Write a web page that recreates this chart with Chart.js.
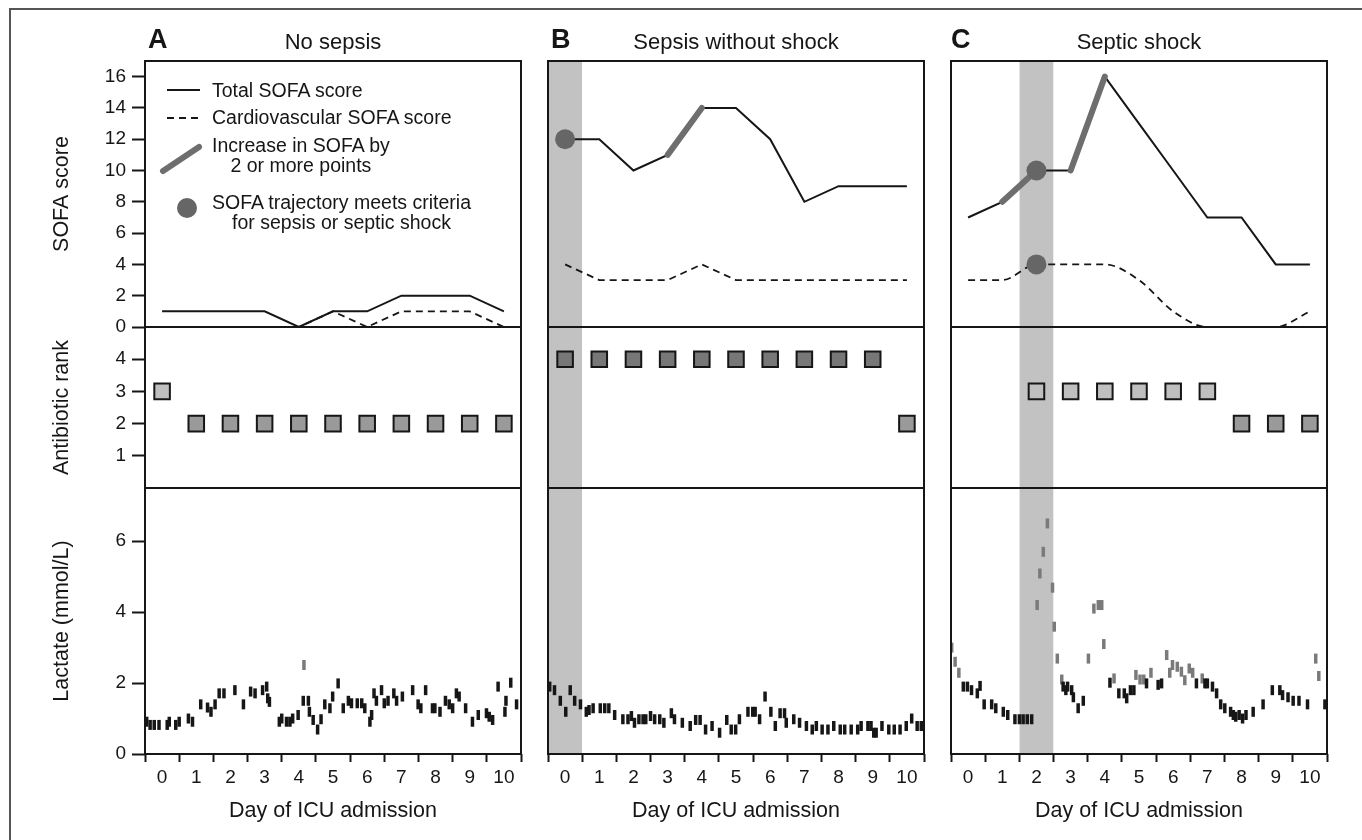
<!DOCTYPE html>
<html>
<head>
<meta charset="utf-8">
<script src="https://cdn.jsdelivr.net/npm/chart.js@4.4.1/dist/chart.umd.min.js"></script>
<style>
  html, body { margin: 0; padding: 0; background: #fff; }
  #fig { position: relative; width: 1362px; height: 840px; overflow: hidden;
         font-family: "Liberation Sans", Arial, Helvetica, sans-serif; color: #161616; }
  #fig canvas { position: absolute; }
  .frame { position: absolute; left: 9px; top: 8px; right: -4px; bottom: -4px;
           border-top: 2px solid #555; border-left: 2px solid #555; }
  .txt { position: absolute; white-space: nowrap; z-index: 2; }
  .letter { font-weight: bold; font-size: 27px; line-height: 27px; }
  .title { font-size: 22px; line-height: 22px; text-align: center; width: 376px; }
  .leg { font-size: 19.5px; line-height: 19.6px; }
  .leg.two { text-align: center; }
  #legsym { position: absolute; left: 150px; top: 75px; z-index: 2; }
</style>
</head>
<body>
<div id="fig">
  <div class="frame"></div>

  <div class="txt letter" style="left:148px;top:26px">A</div>
  <div class="txt title" style="left:145px;top:31px">No sepsis</div>
  <div class="txt letter" style="left:551px;top:26px">B</div>
  <div class="txt title" style="left:548px;top:31px">Sepsis without shock</div>
  <div class="txt letter" style="left:951px;top:26px">C</div>
  <div class="txt title" style="left:951px;top:31px">Septic shock</div>

  <svg id="legsym" width="70" height="150">
    <line x1="17" y1="15" x2="50" y2="15" stroke="#161616" stroke-width="2"/>
    <line x1="17" y1="43" x2="50" y2="43" stroke="#161616" stroke-width="2" stroke-dasharray="7 5"/>
    <line x1="13" y1="96" x2="49" y2="72" stroke="#6e6e6e" stroke-width="6" stroke-linecap="round"/>
    <circle cx="37" cy="133" r="10" fill="#666"/>
  </svg>
  <div class="txt leg" style="left:212px;top:81px">Total SOFA score</div>
  <div class="txt leg" style="left:212px;top:108px">Cardiovascular SOFA score</div>
  <div class="txt leg two" style="left:212px;top:136px">Increase in SOFA by<br>2 or more points</div>
  <div class="txt leg two" style="left:212px;top:193px">SOFA trajectory meets criteria<br>for sepsis or septic shock</div>
</div>

<script>
// ---- data ----
const days = [0, 1, 2, 3, 4, 5, 6, 7, 8, 9, 10];
const dayEdges = [-0.5, 0.5, 1.5, 2.5, 3.5, 4.5, 5.5, 6.5, 7.5, 8.5, 9.5, 10.5];
const dayLabels = ['0', '1', '2', '3', '4', '5', '6', '7', '8', '9', '10'];
const sofaTicks = [0, 2, 4, 6, 8, 10, 12, 14, 16];
const rankTicks = [1, 2, 3, 4];
const lactateTicks = [0, 2, 4, 6];

const totalA = [1, 1, 1, 1, 0, 1, 1, 2, 2, 2, 1];
const cardioA = [0, 0, 0, 0, 0, 1, 0, 1, 1, 1, 0];
const totalB = [12, 12, 10, 11, 14, 14, 12, 8, 9, 9, 9];
const cardioB = [4, 3, 3, 3, 4, 3, 3, 3, 3, 3, 3];
const totalC = [7, 8, 10, 10, 16, 13, 10, 7, 7, 4, 4];
const cardioC = [3, 3, 4, 4, 4, 3, 1, 0, 0, 0, 1];

// day on which a rise of >= 2 points starts (segment day -> day+1)
const riseA = [];
const riseB = [3];
const riseC = [1, 3];

// days where the trajectory meets criteria
const metTotalA = [];
const metCardioA = [];
const metTotalB = [0];
const metCardioB = [];
const metTotalC = [2];
const metCardioC = [2];

// shaded window (day range)
const shadeA = null;
const shadeB = [-0.5, 0.5];
const shadeC = [1.5, 2.5];

const rankA = [3, 2, 2, 2, 2, 2, 2, 2, 2, 2, 2];
const rankB = [4, 4, 4, 4, 4, 4, 4, 4, 4, 4, 2];
const rankC = [null, null, 3, 3, 3, 3, 3, 3, 2, 2, 2];

// lactate measurements: [day, mmol/L]
const lactateA = [
  [-0.45, 0.91], [-0.35, 0.82], [-0.23, 0.82], [-0.09, 0.82], [0.15, 0.82], [0.21, 0.91], [0.40, 0.82],
  [0.50, 0.91], [0.77, 1.00], [0.89, 0.91], [1.13, 1.40], [1.33, 1.31], [1.43, 1.19], [1.55, 1.40],
  [1.67, 1.71], [1.81, 1.71], [2.13, 1.80], [2.38, 1.40], [2.59, 1.76], [2.72, 1.71], [2.94, 1.80],
  [3.06, 1.90], [3.09, 1.57], [3.14, 1.47], [3.43, 0.91], [3.50, 1.00], [3.64, 0.91], [3.74, 0.91],
  [3.82, 1.00], [3.98, 1.10], [4.13, 1.50], [4.15, 2.51], [4.28, 1.50], [4.31, 1.19], [4.42, 0.96],
  [4.55, 0.69], [4.65, 0.98], [4.76, 1.40], [4.91, 1.29], [4.99, 1.62], [5.15, 1.99], [5.30, 1.29],
  [5.45, 1.50], [5.54, 1.43], [5.71, 1.43], [5.84, 1.43], [5.93, 1.29], [6.08, 0.91], [6.13, 1.10],
  [6.20, 1.71], [6.27, 1.50], [6.42, 1.80], [6.50, 1.43], [6.61, 1.50], [6.78, 1.71], [6.86, 1.50],
  [7.03, 1.62], [7.33, 1.80], [7.49, 1.40], [7.57, 1.29], [7.71, 1.80], [7.91, 1.29], [7.98, 1.29],
  [8.13, 1.19], [8.29, 1.50], [8.40, 1.40], [8.50, 1.29], [8.61, 1.71], [8.69, 1.62], [8.88, 1.29],
  [9.08, 0.91], [9.25, 1.10], [9.49, 1.15], [9.57, 1.05], [9.67, 0.96], [9.83, 1.90], [10.03, 1.19],
  [10.06, 1.50], [10.20, 2.01], [10.37, 1.40]
];
const lactateB = [
  [-0.45, 1.90], [-0.31, 1.80], [-0.14, 1.50], [0.02, 1.19], [0.15, 1.80], [0.28, 1.50], [0.45, 1.40],
  [0.62, 1.19], [0.70, 1.24], [0.82, 1.29], [1.03, 1.29], [1.16, 1.29], [1.28, 1.29], [1.45, 1.10],
  [1.69, 0.98], [1.84, 0.98], [1.94, 1.07], [2.03, 0.88], [2.16, 0.98], [2.28, 0.98], [2.36, 0.98],
  [2.50, 1.07], [2.62, 0.98], [2.77, 0.98], [2.89, 0.88], [3.11, 1.15], [3.20, 0.98], [3.43, 0.88],
  [3.66, 0.79], [3.82, 0.96], [3.95, 0.96], [4.11, 0.69], [4.30, 0.79], [4.52, 0.60], [4.73, 0.96],
  [4.86, 0.69], [4.99, 0.69], [5.10, 0.98], [5.35, 1.19], [5.49, 1.19], [5.56, 1.19], [5.69, 0.98],
  [5.85, 1.62], [6.02, 1.19], [6.15, 0.79], [6.29, 1.15], [6.42, 1.15], [6.47, 0.88], [6.69, 0.98],
  [6.86, 0.88], [7.06, 0.79], [7.23, 0.69], [7.35, 0.79], [7.52, 0.69], [7.69, 0.69], [7.86, 0.79],
  [8.05, 0.69], [8.18, 0.69], [8.37, 0.69], [8.56, 0.69], [8.66, 0.79], [8.86, 0.79], [8.95, 0.79],
  [9.03, 0.60], [9.10, 0.60], [9.27, 0.79], [9.47, 0.69], [9.63, 0.69], [9.80, 0.69], [9.98, 0.79],
  [10.14, 1.00], [10.30, 0.79], [10.42, 0.79]
];
const lactateC = [
  [-0.48, 3.00], [-0.38, 2.60], [-0.27, 2.29], [-0.14, 1.90], [-0.02, 1.90], [0.10, 1.80], [0.27, 1.71],
  [0.35, 1.92], [0.47, 1.40], [0.69, 1.40], [0.81, 1.29], [1.03, 1.19], [1.16, 1.10], [1.37, 0.98],
  [1.50, 0.98], [1.61, 0.98], [1.73, 0.98], [1.86, 0.98], [2.02, 4.20], [2.10, 5.09], [2.20, 5.70],
  [2.32, 6.50], [2.47, 4.69], [2.52, 3.59], [2.61, 2.69], [2.74, 2.10], [2.78, 1.90], [2.86, 1.80],
  [2.91, 1.90], [3.03, 1.80], [3.08, 1.60], [3.22, 1.29], [3.37, 1.50], [3.52, 2.69], [3.68, 4.10],
  [3.81, 4.20], [3.91, 4.20], [3.97, 3.10], [4.15, 2.01], [4.27, 2.13], [4.41, 1.71], [4.57, 1.71],
  [4.64, 1.57], [4.75, 1.80], [4.85, 1.80], [4.91, 2.23], [5.03, 2.10], [5.14, 2.10], [5.22, 1.99],
  [5.35, 2.29], [5.56, 1.95], [5.66, 1.99], [5.81, 2.79], [5.90, 2.29], [5.98, 2.51], [6.12, 2.46],
  [6.24, 2.32], [6.34, 2.08], [6.47, 2.41], [6.57, 2.29], [6.68, 1.99], [6.85, 2.13], [6.93, 1.99],
  [7.00, 1.99], [7.15, 1.90], [7.27, 1.71], [7.39, 1.40], [7.51, 1.29], [7.68, 1.19], [7.76, 1.10],
  [7.83, 1.05], [7.93, 1.10], [8.03, 1.00], [8.13, 1.10], [8.34, 1.19], [8.63, 1.40], [8.90, 1.80],
  [9.12, 1.80], [9.20, 1.66], [9.36, 1.60], [9.51, 1.50], [9.68, 1.50], [9.93, 1.40], [10.17, 2.69],
  [10.26, 2.20], [10.44, 1.40]
];
const lactateHigh = 2.05; // drawn in grey above this

// ---- style / layout ----
const INK = '#161616';
const SHADE = '#c2c2c2';
const RISE = '#6e6e6e';
const DOT = '#666666';
const HIGH = '#7a7a7a';
const RANK_FILL = { 2: '#9a9a9a', 3: '#bfbfbf', 4: '#777777' };

const PANEL_LEFT = [145, 548, 951];
const PANEL_W = 376;
const ROWS = {
  sofa: { top: 61, bottom: 327, min: 0, max: 17 },
  rank: { top: 327, bottom: 488, min: 0, max: 5 },
  lac:  { top: 488, bottom: 754, min: 0, max: 7.5 }
};
const Y_AXIS_W = 96;
const X_AXIS_H = 70;

Chart.defaults.font.family = '"Liberation Sans", Arial, Helvetica, sans-serif';
Chart.defaults.color = INK;

const framePlugin = {
  id: 'frame',
  afterDraw(chart) {
    const { ctx, chartArea: a } = chart;
    ctx.save();
    ctx.strokeStyle = INK;
    ctx.lineWidth = 2;
    ctx.strokeRect(a.left, a.top, a.right - a.left, a.bottom - a.top);
    ctx.restore();
  }
};

function yAxis(row, ticks, title) {
  const show = !!title;
  return {
    type: 'linear', min: row.min, max: row.max, display: show,
    afterBuildTicks: axis => { axis.ticks = ticks.map(v => ({ value: v })); },
    afterFit: axis => {
      if (show) axis.width = Y_AXIS_W;
      axis.paddingTop = 0;
      axis.paddingBottom = 0;
    },
    border: { display: false },
    grid: { drawOnChartArea: false, tickLength: 13, tickColor: INK, tickWidth: 2 },
    ticks: { autoSkip: false, padding: 6, font: { size: 19 }, color: INK },
    title: { display: show, text: title || '', font: { size: 21.5 }, color: INK, padding: 0 }
  };
}

function xAxis(show) {
  return {
    type: 'linear', min: -0.5, max: 10.5, display: show,
    afterBuildTicks: axis => { axis.ticks = dayEdges.map(v => ({ value: v })); },
    afterFit: axis => {
      if (show) axis.height = X_AXIS_H;
      axis.paddingLeft = 0;
      axis.paddingRight = 0;
    },
    border: { display: false },
    grid: { drawOnChartArea: false, tickLength: 8, tickColor: INK, tickWidth: 2 },
    ticks: {
      autoSkip: false, maxRotation: 0, minRotation: 0, padding: 4,
      labelOffset: PANEL_W / 22, font: { size: 19 }, color: INK,
      callback: (v, i) => (i < dayLabels.length ? dayLabels[i] : '')
    },
    title: { display: show, text: 'Day of ICU admission', font: { size: 21.5 }, color: INK, padding: 0 }
  };
}

function shadeSet(shade, row) {
  return {
    data: [{ x: shade[0], y: row.max }, { x: shade[1], y: row.max }],
    fill: 'origin', backgroundColor: SHADE, borderWidth: 0, pointRadius: 0, order: 10
  };
}

function sofaSets(total, cardio, rises, metTotal, metCardio, shade, smooth) {
  const pts = vals => days.map((d, i) => ({ x: d, y: vals[i] }));
  const sets = [];
  if (shade) sets.push(shadeSet(shade, ROWS.sofa));
  sets.push({
    data: pts(cardio), borderColor: INK, borderWidth: 1.8, borderDash: [7, 5],
    pointRadius: 0, order: 5, cubicInterpolationMode: smooth ? 'monotone' : 'default'
  });
  sets.push({ data: pts(total), borderColor: INK, borderWidth: 2, pointRadius: 0, order: 4 });
  rises.forEach(d => sets.push({
    data: [{ x: d, y: total[d] }, { x: d + 1, y: total[d + 1] }],
    borderColor: RISE, borderWidth: 6, borderCapStyle: 'round', pointRadius: 0, order: 3
  }));
  const met = metTotal.map(d => ({ x: d, y: total[d] }))
    .concat(metCardio.map(d => ({ x: d, y: cardio[d] })));
  if (met.length) sets.push({
    data: met, showLine: false, pointRadius: 10, pointBackgroundColor: DOT,
    pointBorderWidth: 0, order: 1
  });
  return sets;
}

function rankSets(ranks, shade) {
  const sets = [];
  if (shade) sets.push(shadeSet(shade, ROWS.rank));
  sets.push({
    data: days.filter((d, i) => ranks[i] != null).map(d => ({ x: d, y: ranks[d] })),
    showLine: false, pointStyle: 'rect', pointRadius: 11,
    pointBackgroundColor: ctx => RANK_FILL[ctx.raw.y], pointBorderColor: INK, pointBorderWidth: 2,
    order: 1
  });
  return sets;
}

function lactateSets(points, shade) {
  const sets = [];
  if (shade) sets.push(shadeSet(shade, ROWS.lac));
  sets.push({
    data: points.map(([t, v]) => ({ x: t, y: v })),
    showLine: false, pointStyle: 'line', pointRotation: 90, pointRadius: 5,
    pointBorderWidth: 3.5,
    pointBorderColor: ctx => (ctx.raw.y > lactateHigh ? HIGH : INK),
    order: 1
  });
  return sets;
}

function makeChart(col, rowKey, datasets, ticks, title) {
  const row = ROWS[rowKey];
  const left = PANEL_LEFT[col];
  const right = left + PANEL_W;
  const isBottom = rowKey === 'lac';
  const padLeft = col === 0 ? 0 : 8;
  const x0 = col === 0 ? left - Y_AXIS_W : left - padLeft;
  const y0 = row.top - 12;
  const x1 = right + 8;
  const y1 = isBottom ? row.bottom + X_AXIS_H : row.bottom + 14;

  const canvas = document.createElement('canvas');
  canvas.width = x1 - x0;
  canvas.height = y1 - y0;
  canvas.style.left = x0 + 'px';
  canvas.style.top = y0 + 'px';
  document.getElementById('fig').appendChild(canvas);

  return new Chart(canvas, {
    type: 'line',
    data: { datasets },
    options: {
      responsive: false,
      animation: false,
      events: [],
      layout: {
        autoPadding: false,
        padding: { left: padLeft, top: 12, right: 8, bottom: isBottom ? 0 : 14 }
      },
      plugins: { legend: { display: false }, tooltip: { enabled: false } },
      scales: {
        x: xAxis(isBottom),
        y: yAxis(row, ticks, col === 0 ? title : null)
      }
    },
    plugins: [framePlugin]
  });
}

// Panel A
makeChart(0, 'sofa', sofaSets(totalA, cardioA, riseA, metTotalA, metCardioA, shadeA, false), sofaTicks, 'SOFA score');
makeChart(0, 'rank', rankSets(rankA, shadeA), rankTicks, 'Antibiotic rank');
makeChart(0, 'lac', lactateSets(lactateA, shadeA), lactateTicks, 'Lactate (mmol/L)');

// Panel B
makeChart(1, 'sofa', sofaSets(totalB, cardioB, riseB, metTotalB, metCardioB, shadeB, false), sofaTicks);
makeChart(1, 'rank', rankSets(rankB, shadeB), rankTicks);
makeChart(1, 'lac', lactateSets(lactateB, shadeB), lactateTicks);

// Panel C
makeChart(2, 'sofa', sofaSets(totalC, cardioC, riseC, metTotalC, metCardioC, shadeC, true), sofaTicks);
makeChart(2, 'rank', rankSets(rankC, shadeC), rankTicks);
makeChart(2, 'lac', lactateSets(lactateC, shadeC), lactateTicks);
</script>
</body>
</html>
